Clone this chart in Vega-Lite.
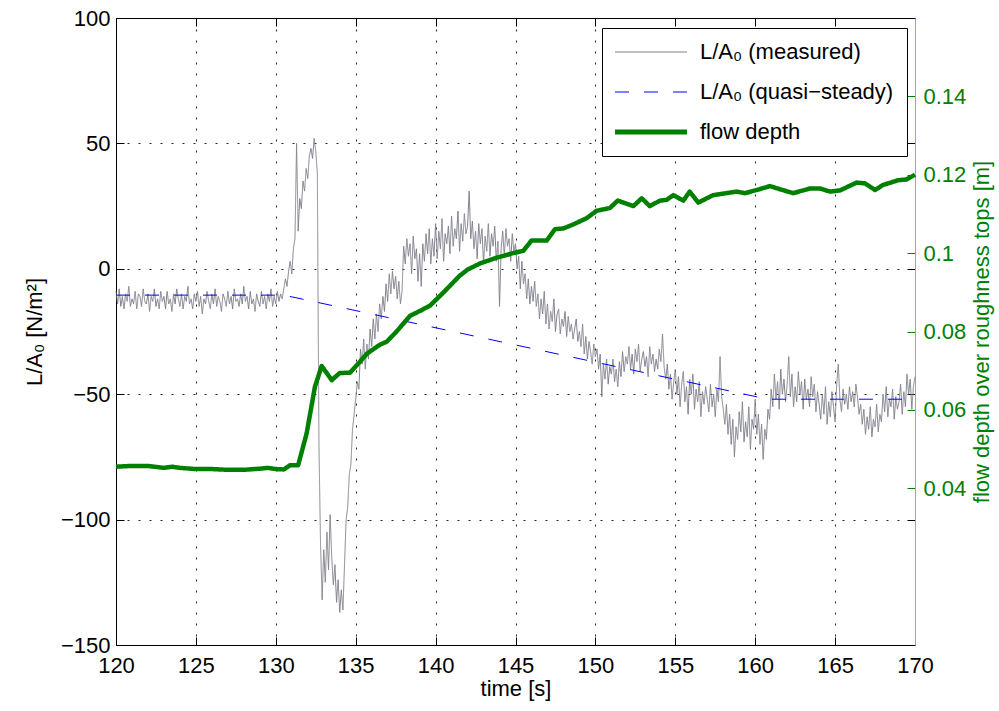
{
  "$schema": "https://vega.github.io/schema/vega-lite/v6.json",
  "width": 799,
  "height": 627,
  "autosize": {"type": "none"},
  "padding": {"left": 116, "top": 18, "right": 84, "bottom": 66},
  "background": "#ffffff",
  "config": {
    "font": "Liberation Sans",
    "view": {"stroke": null},
    "axis": {
      "labelFont": "Liberation Sans",
      "titleFont": "Liberation Sans",
      "labelFontSize": 22,
      "titleFontSize": 22,
      "titleFontWeight": "normal",
      "labelColor": "#000000",
      "titleColor": "#000000",
      "domainColor": "#000000",
      "tickColor": "#000000",
      "domainWidth": 1,
      "tickWidth": 1
    },
    "legend": {"labelFont": "Liberation Sans"}
  },
  "datasets": {
    "measured": [
      {"t":120.0,"v":-9},{"t":120.1,"v":-14},{"t":120.2,"v":-8},{"t":120.3,"v":-15},{"t":120.4,"v":-11},{"t":120.5,"v":-16},{"t":120.6,"v":-10},{"t":120.7,"v":-13},{"t":120.8,"v":-7},{"t":120.9,"v":-15},
      {"t":121.0,"v":-12},{"t":121.1,"v":-14},{"t":121.2,"v":-9},{"t":121.3,"v":-16},{"t":121.4,"v":-10},{"t":121.5,"v":-11},{"t":121.6,"v":-15},{"t":121.7,"v":-8},{"t":121.8,"v":-13},{"t":121.9,"v":-14},
      {"t":122.0,"v":-10},{"t":122.1,"v":-17},{"t":122.2,"v":-11},{"t":122.3,"v":-13},{"t":122.4,"v":-8},{"t":122.5,"v":-15},{"t":122.6,"v":-12},{"t":122.7,"v":-16},{"t":122.8,"v":-9},{"t":122.9,"v":-13},
      {"t":123.0,"v":-11},{"t":123.1,"v":-16},{"t":123.2,"v":-9},{"t":123.3,"v":-14},{"t":123.4,"v":-12},{"t":123.5,"v":-17},{"t":123.6,"v":-10},{"t":123.7,"v":-14},{"t":123.8,"v":-8},{"t":123.9,"v":-12},
      {"t":124.0,"v":-15},{"t":124.1,"v":-10},{"t":124.2,"v":-16},{"t":124.3,"v":-11},{"t":124.4,"v":-13},{"t":124.5,"v":-7},{"t":124.6,"v":-14},{"t":124.7,"v":-12},{"t":124.8,"v":-16},{"t":124.9,"v":-10},
      {"t":125.0,"v":-13},{"t":125.1,"v":-9},{"t":125.2,"v":-15},{"t":125.3,"v":-11},{"t":125.4,"v":-18},{"t":125.5,"v":-12},{"t":125.6,"v":-14},{"t":125.7,"v":-9},{"t":125.8,"v":-13},{"t":125.9,"v":-16},
      {"t":126.0,"v":-10},{"t":126.1,"v":-14},{"t":126.2,"v":-8},{"t":126.3,"v":-15},{"t":126.4,"v":-11},{"t":126.5,"v":-13},{"t":126.6,"v":-17},{"t":126.7,"v":-10},{"t":126.8,"v":-12},{"t":126.9,"v":-15},
      {"t":127.0,"v":-9},{"t":127.1,"v":-14},{"t":127.2,"v":-11},{"t":127.3,"v":-16},{"t":127.4,"v":-8},{"t":127.5,"v":-13},{"t":127.6,"v":-12},{"t":127.7,"v":-15},{"t":127.8,"v":-10},{"t":127.9,"v":-14},
      {"t":128.0,"v":-7},{"t":128.1,"v":-13},{"t":128.2,"v":-11},{"t":128.3,"v":-16},{"t":128.4,"v":-9},{"t":128.5,"v":-14},{"t":128.6,"v":-12},{"t":128.7,"v":-17},{"t":128.8,"v":-10},{"t":128.9,"v":-13},
      {"t":129.0,"v":-15},{"t":129.1,"v":-9},{"t":129.2,"v":-14},{"t":129.3,"v":-11},{"t":129.4,"v":-16},{"t":129.5,"v":-10},{"t":129.6,"v":-13},{"t":129.7,"v":-8},{"t":129.8,"v":-15},{"t":129.9,"v":-11},
      {"t":130.0,"v":-14},{"t":130.1,"v":-9},{"t":130.2,"v":-13},{"t":130.3,"v":-10},{"t":130.4,"v":-12},{"t":130.5,"v":-8},{"t":130.6,"v":-4},{"t":130.7,"v":-7},{"t":130.8,"v":-1},{"t":130.9,"v":3},
      {"t":131.0,"v":-2},{"t":131.1,"v":8},{"t":131.2,"v":12},{"t":131.3,"v":50},{"t":131.4,"v":15},{"t":131.5,"v":28},{"t":131.6,"v":24},{"t":131.7,"v":35},{"t":131.8,"v":31},{"t":131.9,"v":40},
      {"t":132.0,"v":36},{"t":132.1,"v":45},{"t":132.2,"v":48},{"t":132.3,"v":44},{"t":132.4,"v":52},{"t":132.5,"v":47},{"t":132.6,"v":38},{"t":132.7,"v":-70},{"t":132.8,"v":-110},{"t":132.9,"v":-132},
      {"t":133.0,"v":-112},{"t":133.1,"v":-125},{"t":133.2,"v":-105},{"t":133.3,"v":-120},{"t":133.4,"v":-98},{"t":133.5,"v":-115},{"t":133.6,"v":-126},{"t":133.7,"v":-118},{"t":133.8,"v":-133},{"t":133.9,"v":-124},
      {"t":134.0,"v":-137},{"t":134.1,"v":-128},{"t":134.2,"v":-136},{"t":134.3,"v":-118},{"t":134.4,"v":-100},{"t":134.5,"v":-95},{"t":134.6,"v":-82},{"t":134.7,"v":-78},{"t":134.8,"v":-64},{"t":134.9,"v":-58},
      {"t":135.0,"v":-52},{"t":135.1,"v":-45},{"t":135.2,"v":-48},{"t":135.3,"v":-32},{"t":135.4,"v":-38},{"t":135.5,"v":-28},{"t":135.6,"v":-40},{"t":135.7,"v":-30},{"t":135.8,"v":-36},{"t":135.9,"v":-24},
      {"t":136.0,"v":-31},{"t":136.1,"v":-20},{"t":136.2,"v":-28},{"t":136.3,"v":-18},{"t":136.4,"v":-25},{"t":136.5,"v":-14},{"t":136.6,"v":-20},{"t":136.7,"v":-11},{"t":136.8,"v":-17},{"t":136.9,"v":-6},
      {"t":137.0,"v":-13},{"t":137.1,"v":-2},{"t":137.2,"v":-10},{"t":137.3,"v":-1},{"t":137.4,"v":-8},{"t":137.5,"v":-3},{"t":137.6,"v":-12},{"t":137.7,"v":-5},{"t":137.8,"v":-14},{"t":137.9,"v":-9},
      {"t":138.0,"v":9},{"t":138.1,"v":2},{"t":138.2,"v":12},{"t":138.3,"v":5},{"t":138.4,"v":10},{"t":138.5,"v":-2},{"t":138.6,"v":13},{"t":138.7,"v":4},{"t":138.8,"v":8},{"t":138.9,"v":-5},
      {"t":139.0,"v":6},{"t":139.1,"v":-7},{"t":139.2,"v":10},{"t":139.3,"v":3},{"t":139.4,"v":14},{"t":139.5,"v":6},{"t":139.6,"v":16},{"t":139.7,"v":2},{"t":139.8,"v":12},{"t":139.9,"v":5},
      {"t":140.0,"v":18},{"t":140.1,"v":4},{"t":140.2,"v":15},{"t":140.3,"v":8},{"t":140.4,"v":20},{"t":140.5,"v":3},{"t":140.6,"v":14},{"t":140.7,"v":10},{"t":140.8,"v":17},{"t":140.9,"v":6},
      {"t":141.0,"v":21},{"t":141.1,"v":9},{"t":141.2,"v":16},{"t":141.3,"v":12},{"t":141.4,"v":23},{"t":141.5,"v":7},{"t":141.6,"v":18},{"t":141.7,"v":11},{"t":141.8,"v":22},{"t":141.9,"v":14},
      {"t":142.0,"v":17},{"t":142.1,"v":31},{"t":142.2,"v":12},{"t":142.3,"v":19},{"t":142.4,"v":8},{"t":142.5,"v":15},{"t":142.6,"v":4},{"t":142.7,"v":18},{"t":142.8,"v":10},{"t":142.9,"v":16},
      {"t":143.0,"v":2},{"t":143.1,"v":13},{"t":143.2,"v":7},{"t":143.3,"v":18},{"t":143.4,"v":5},{"t":143.5,"v":14},{"t":143.6,"v":9},{"t":143.7,"v":17},{"t":143.8,"v":3},{"t":143.9,"v":11},
      {"t":144.0,"v":-15},{"t":144.1,"v":8},{"t":144.2,"v":15},{"t":144.3,"v":5},{"t":144.4,"v":16},{"t":144.5,"v":9},{"t":144.6,"v":12},{"t":144.7,"v":3},{"t":144.8,"v":14},{"t":144.9,"v":7},
      {"t":145.0,"v":10},{"t":145.1,"v":0},{"t":145.2,"v":5},{"t":145.3,"v":-8},{"t":145.4,"v":3},{"t":145.5,"v":-6},{"t":145.6,"v":-2},{"t":145.7,"v":-12},{"t":145.8,"v":-4},{"t":145.9,"v":-14},
      {"t":146.0,"v":-7},{"t":146.1,"v":-13},{"t":146.2,"v":-5},{"t":146.3,"v":-15},{"t":146.4,"v":-10},{"t":146.5,"v":-20},{"t":146.6,"v":-12},{"t":146.7,"v":-18},{"t":146.8,"v":-9},{"t":146.9,"v":-22},
      {"t":147.0,"v":-14},{"t":147.1,"v":-24},{"t":147.2,"v":-17},{"t":147.3,"v":-21},{"t":147.4,"v":-12},{"t":147.5,"v":-25},{"t":147.6,"v":-18},{"t":147.7,"v":-16},{"t":147.8,"v":-26},{"t":147.9,"v":-20},
      {"t":148.0,"v":-23},{"t":148.1,"v":-17},{"t":148.2,"v":-27},{"t":148.3,"v":-19},{"t":148.4,"v":-25},{"t":148.5,"v":-22},{"t":148.6,"v":-28},{"t":148.7,"v":-24},{"t":148.8,"v":-20},{"t":148.9,"v":-29},
      {"t":149.0,"v":-25},{"t":149.1,"v":-31},{"t":149.2,"v":-22},{"t":149.3,"v":-34},{"t":149.4,"v":-27},{"t":149.5,"v":-36},{"t":149.6,"v":-29},{"t":149.7,"v":-33},{"t":149.8,"v":-38},{"t":149.9,"v":-30},
      {"t":150.0,"v":-35},{"t":150.1,"v":-32},{"t":150.2,"v":-40},{"t":150.3,"v":-34},{"t":150.4,"v":-51},{"t":150.5,"v":-38},{"t":150.6,"v":-44},{"t":150.7,"v":-36},{"t":150.8,"v":-46},{"t":150.9,"v":-39},
      {"t":151.0,"v":-42},{"t":151.1,"v":-36},{"t":151.2,"v":-45},{"t":151.3,"v":-40},{"t":151.4,"v":-47},{"t":151.5,"v":-37},{"t":151.6,"v":-43},{"t":151.7,"v":-33},{"t":151.8,"v":-41},{"t":151.9,"v":-35},
      {"t":152.0,"v":-38},{"t":152.1,"v":-31},{"t":152.2,"v":-40},{"t":152.3,"v":-34},{"t":152.4,"v":-42},{"t":152.5,"v":-32},{"t":152.6,"v":-37},{"t":152.7,"v":-30},{"t":152.8,"v":-41},{"t":152.9,"v":-36},
      {"t":153.0,"v":-33},{"t":153.1,"v":-39},{"t":153.2,"v":-35},{"t":153.3,"v":-43},{"t":153.4,"v":-31},{"t":153.5,"v":-38},{"t":153.6,"v":-34},{"t":153.7,"v":-41},{"t":153.8,"v":-36},{"t":153.9,"v":-40},
      {"t":154.0,"v":-32},{"t":154.1,"v":-37},{"t":154.2,"v":-26},{"t":154.3,"v":-39},{"t":154.4,"v":-44},{"t":154.5,"v":-38},{"t":154.6,"v":-48},{"t":154.7,"v":-42},{"t":154.8,"v":-52},{"t":154.9,"v":-45},
      {"t":155.0,"v":-40},{"t":155.1,"v":-50},{"t":155.2,"v":-43},{"t":155.3,"v":-55},{"t":155.4,"v":-46},{"t":155.5,"v":-41},{"t":155.6,"v":-53},{"t":155.7,"v":-47},{"t":155.8,"v":-58},{"t":155.9,"v":-44},
      {"t":156.0,"v":-50},{"t":156.1,"v":-42},{"t":156.2,"v":-56},{"t":156.3,"v":-48},{"t":156.4,"v":-53},{"t":156.5,"v":-45},{"t":156.6,"v":-59},{"t":156.7,"v":-49},{"t":156.8,"v":-54},{"t":156.9,"v":-47},
      {"t":157.0,"v":-52},{"t":157.1,"v":-57},{"t":157.2,"v":-46},{"t":157.3,"v":-55},{"t":157.4,"v":-50},{"t":157.5,"v":-59},{"t":157.6,"v":-48},{"t":157.7,"v":-53},{"t":157.8,"v":-35},{"t":157.9,"v":-51},
      {"t":158.0,"v":-56},{"t":158.1,"v":-62},{"t":158.2,"v":-54},{"t":158.3,"v":-66},{"t":158.4,"v":-58},{"t":158.5,"v":-70},{"t":158.6,"v":-60},{"t":158.7,"v":-75},{"t":158.8,"v":-63},{"t":158.9,"v":-68},
      {"t":159.0,"v":-57},{"t":159.1,"v":-65},{"t":159.2,"v":-53},{"t":159.3,"v":-69},{"t":159.4,"v":-61},{"t":159.5,"v":-67},{"t":159.6,"v":-55},{"t":159.7,"v":-72},{"t":159.8,"v":-60},{"t":159.9,"v":-64},
      {"t":160.0,"v":-52},{"t":160.1,"v":-66},{"t":160.2,"v":-58},{"t":160.3,"v":-70},{"t":160.4,"v":-62},{"t":160.5,"v":-76},{"t":160.6,"v":-64},{"t":160.7,"v":-68},{"t":160.8,"v":-56},{"t":160.9,"v":-60},
      {"t":161.0,"v":-48},{"t":161.1,"v":-55},{"t":161.2,"v":-42},{"t":161.3,"v":-52},{"t":161.4,"v":-45},{"t":161.5,"v":-56},{"t":161.6,"v":-40},{"t":161.7,"v":-50},{"t":161.8,"v":-44},{"t":161.9,"v":-53},
      {"t":162.0,"v":-46},{"t":162.1,"v":-35},{"t":162.2,"v":-51},{"t":162.3,"v":-42},{"t":162.4,"v":-55},{"t":162.5,"v":-47},{"t":162.6,"v":-53},{"t":162.7,"v":-41},{"t":162.8,"v":-50},{"t":162.9,"v":-45},
      {"t":163.0,"v":-56},{"t":163.1,"v":-44},{"t":163.2,"v":-52},{"t":163.3,"v":-48},{"t":163.4,"v":-55},{"t":163.5,"v":-43},{"t":163.6,"v":-51},{"t":163.7,"v":-46},{"t":163.8,"v":-57},{"t":163.9,"v":-49},
      {"t":164.0,"v":-54},{"t":164.1,"v":-60},{"t":164.2,"v":-50},{"t":164.3,"v":-58},{"t":164.4,"v":-47},{"t":164.5,"v":-62},{"t":164.6,"v":-53},{"t":164.7,"v":-59},{"t":164.8,"v":-49},{"t":164.9,"v":-55},
      {"t":165.0,"v":-61},{"t":165.1,"v":-46},{"t":165.2,"v":-38},{"t":165.3,"v":-52},{"t":165.4,"v":-57},{"t":165.5,"v":-48},{"t":165.6,"v":-54},{"t":165.7,"v":-50},{"t":165.8,"v":-56},{"t":165.9,"v":-47},
      {"t":166.0,"v":-53},{"t":166.1,"v":-49},{"t":166.2,"v":-55},{"t":166.3,"v":-46},{"t":166.4,"v":-51},{"t":166.5,"v":-58},{"t":166.6,"v":-54},{"t":166.7,"v":-62},{"t":166.8,"v":-56},{"t":166.9,"v":-66},
      {"t":167.0,"v":-59},{"t":167.1,"v":-64},{"t":167.2,"v":-55},{"t":167.3,"v":-67},{"t":167.4,"v":-60},{"t":167.5,"v":-63},{"t":167.6,"v":-54},{"t":167.7,"v":-65},{"t":167.8,"v":-58},{"t":167.9,"v":-61},
      {"t":168.0,"v":-50},{"t":168.1,"v":-57},{"t":168.2,"v":-47},{"t":168.3,"v":-59},{"t":168.4,"v":-52},{"t":168.5,"v":-55},{"t":168.6,"v":-48},{"t":168.7,"v":-60},{"t":168.8,"v":-51},{"t":168.9,"v":-56},
      {"t":169.0,"v":-53},{"t":169.1,"v":-46},{"t":169.2,"v":-58},{"t":169.3,"v":-49},{"t":169.4,"v":-55},{"t":169.5,"v":-42},{"t":169.6,"v":-50},{"t":169.7,"v":-44},{"t":169.8,"v":-56},{"t":169.9,"v":-47},
      {"t":170.0,"v":-43}
    ],
    "quasi": [
      {"t":120,"v":-10.5},{"t":130.5,"v":-10.5},{"t":160.8,"v":-52},{"t":170,"v":-52}
    ],
    "depth": [
      {"t":120,"d":0.0455},{"t":121,"d":0.0457},{"t":122,"d":0.0457},{"t":123,"d":0.0452},{"t":123.5,"d":0.0455},{"t":124,"d":0.0452},{"t":125,"d":0.0449},{"t":126,"d":0.0449},{"t":127,"d":0.0447},{"t":128,"d":0.0447},{"t":129,"d":0.045},{"t":129.5,"d":0.0452},{"t":130,"d":0.0449},{"t":130.5,"d":0.0448},{"t":130.9,"d":0.0459},{"t":131.4,"d":0.0459},{"t":131.93,"d":0.054},{"t":132.45,"d":0.0659},{"t":132.87,"d":0.0712},{"t":133.5,"d":0.0676},{"t":134.0,"d":0.0694},{"t":134.64,"d":0.0695},{"t":135.27,"d":0.0723},{"t":135.69,"d":0.0743},{"t":136.5,"d":0.0766},{"t":136.94,"d":0.0774},{"t":137.56,"d":0.08},{"t":138.4,"d":0.084},{"t":139.0,"d":0.0852},{"t":139.65,"d":0.0866},{"t":140.5,"d":0.09},{"t":141.5,"d":0.0942},{"t":142.0,"d":0.0958},{"t":142.8,"d":0.0974},{"t":143.8,"d":0.0988},{"t":144.86,"d":0.1},{"t":145.49,"d":0.1006},{"t":146.0,"d":0.1032},{"t":146.95,"d":0.1032},{"t":147.47,"d":0.1061},{"t":147.99,"d":0.1063},{"t":148.6,"d":0.1073},{"t":149.45,"d":0.1089},{"t":150.07,"d":0.1108},{"t":150.9,"d":0.1115},{"t":151.4,"d":0.1134},{"t":152.38,"d":0.112},{"t":152.9,"d":0.114},{"t":153.4,"d":0.112},{"t":154.04,"d":0.1134},{"t":154.46,"d":0.1136},{"t":154.88,"d":0.1148},{"t":155.5,"d":0.1134},{"t":155.9,"d":0.1157},{"t":156.44,"d":0.1129},{"t":157.37,"d":0.1148},{"t":158.84,"d":0.1157},{"t":159.36,"d":0.1153},{"t":160.09,"d":0.1161},{"t":160.92,"d":0.1171},{"t":161.55,"d":0.1163},{"t":162.38,"d":0.1153},{"t":163.43,"d":0.1165},{"t":164.05,"d":0.1165},{"t":164.68,"d":0.1157},{"t":165.3,"d":0.116},{"t":166.35,"d":0.118},{"t":166.87,"d":0.1178},{"t":167.5,"d":0.1161},{"t":168.0,"d":0.1174},{"t":168.95,"d":0.1186},{"t":169.47,"d":0.1188},{"t":170,"d":0.12}
    ]
  },
  "layer": [
    {
      "encoding": {
        "x": {
          "field": "t", "type": "quantitative",
          "scale": {"domain": [120, 170], "nice": false, "zero": false},
          "axis": {
            "orient": "bottom", "values": [120,125,130,135,140,145,150,155,160,165,170],
            "title": "time [s]", "grid": true, "gridColor": "#000000", "gridDash": [2, 9], "gridOpacity": 0.85,
            "tickSize": -8, "labelPadding": 18, "labelFlush": false, "labelOverlap": false, "titlePadding": 2
          }
        }
      },
      "layer": [
        {
          "data": {"name": "measured"},
          "mark": {"type": "line", "strokeWidth": 1},
          "encoding": {
            "y": {
              "field": "v", "type": "quantitative",
              "scale": {"domain": [-150, 100], "nice": false, "zero": false},
              "axis": {
                "orient": "left", "values": [-150,-100,-50,0,50,100],
                "title": "L/A₀ [N/m²]", "grid": true, "gridColor": "#000000", "gridDash": [2, 9], "gridOpacity": 0.85,
                "tickSize": -8, "labelPadding": 14, "labelOverlap": false, "titlePadding": 14
              }
            },
            "color": {
              "datum": "L/A₀ (measured)", "type": "nominal",
              "scale": {"domain": ["L/A₀ (measured)", "L/A₀ (quasi−steady)", "flow depth"], "range": ["#7f7f8c", "#0000ff", "#008000"]},
              "legend": {
                "title": null, "orient": "none", "legendX": 486, "legendY": 10,
                "symbolType": "M-4,0H4", "symbolSize": 324, "symbolOffset": 25, "labelOffset": 38,
                "labelFontSize": 22, "labelColor": "#000000", "labelLimit": 0, "rowPadding": 18, "padding": 13,
                "strokeColor": "#000000", "fillColor": "#ffffff", "symbolFillColor": "transparent",
                "encoding": {
                  "symbols": {
                    "strokeWidth": {"value": {"expr": "datum.value === 'flow depth' ? 5 : 1"}}
                  }
                }
              }
            },
            "strokeDash": {
              "datum": "L/A₀ (measured)", "type": "nominal",
              "scale": {"domain": ["L/A₀ (measured)", "L/A₀ (quasi−steady)", "flow depth"], "range": [[1, 0], [14, 15], [1, 0]]}
            }
          }
        },
        {
          "data": {"name": "quasi"},
          "mark": {"type": "line", "strokeWidth": 1},
          "encoding": {
            "y": {
              "field": "v", "type": "quantitative",
              "scale": {"domain": [-150, 100], "nice": false, "zero": false},
              "axis": {
                "orient": "right", "values": [-150,-100,-50,0,50,100], "labels": false, "grid": false,
                "domain": false, "tickSize": -8, "title": null
              }
            },
            "color": {"datum": "L/A₀ (quasi−steady)", "type": "nominal"},
            "strokeDash": {"datum": "L/A₀ (quasi−steady)", "type": "nominal"}
          }
        }
      ],
      "resolve": {"axis": {"y": "independent"}}
    },
    {
      "data": {"name": "depth"},
      "mark": {"type": "line", "strokeWidth": 4.5, "strokeJoin": "round"},
      "encoding": {
        "x": {
          "field": "t", "type": "quantitative",
          "scale": {"domain": [120, 170], "nice": false, "zero": false},
          "axis": {
            "orient": "top", "values": [120,125,130,135,140,145,150,155,160,165,170],
            "labels": false, "grid": false, "tickSize": -8, "title": null
          }
        },
        "y": {
          "field": "d", "type": "quantitative",
          "scale": {"domain": [0, 0.16], "nice": false, "zero": false},
          "axis": {
            "orient": "right", "values": [0.04, 0.06, 0.08, 0.1, 0.12, 0.14], "format": "~g",
            "grid": false, "tickSize": -8, "labelPadding": 16, "labelOverlap": false,
            "labelColor": "#008000", "tickColor": "#008000", "domainColor": "#78c078",
            "title": "flow depth over roughness tops [m]", "titleColor": "#008000", "titleAngle": 270, "titleBaseline": "top", "titlePadding": 6
          }
        },
        "color": {"datum": "flow depth", "type": "nominal"},
        "strokeDash": {"datum": "flow depth", "type": "nominal"}
      }
    }
  ],
  "resolve": {"scale": {"y": "independent"}, "axis": {"x": "independent"}}
}
